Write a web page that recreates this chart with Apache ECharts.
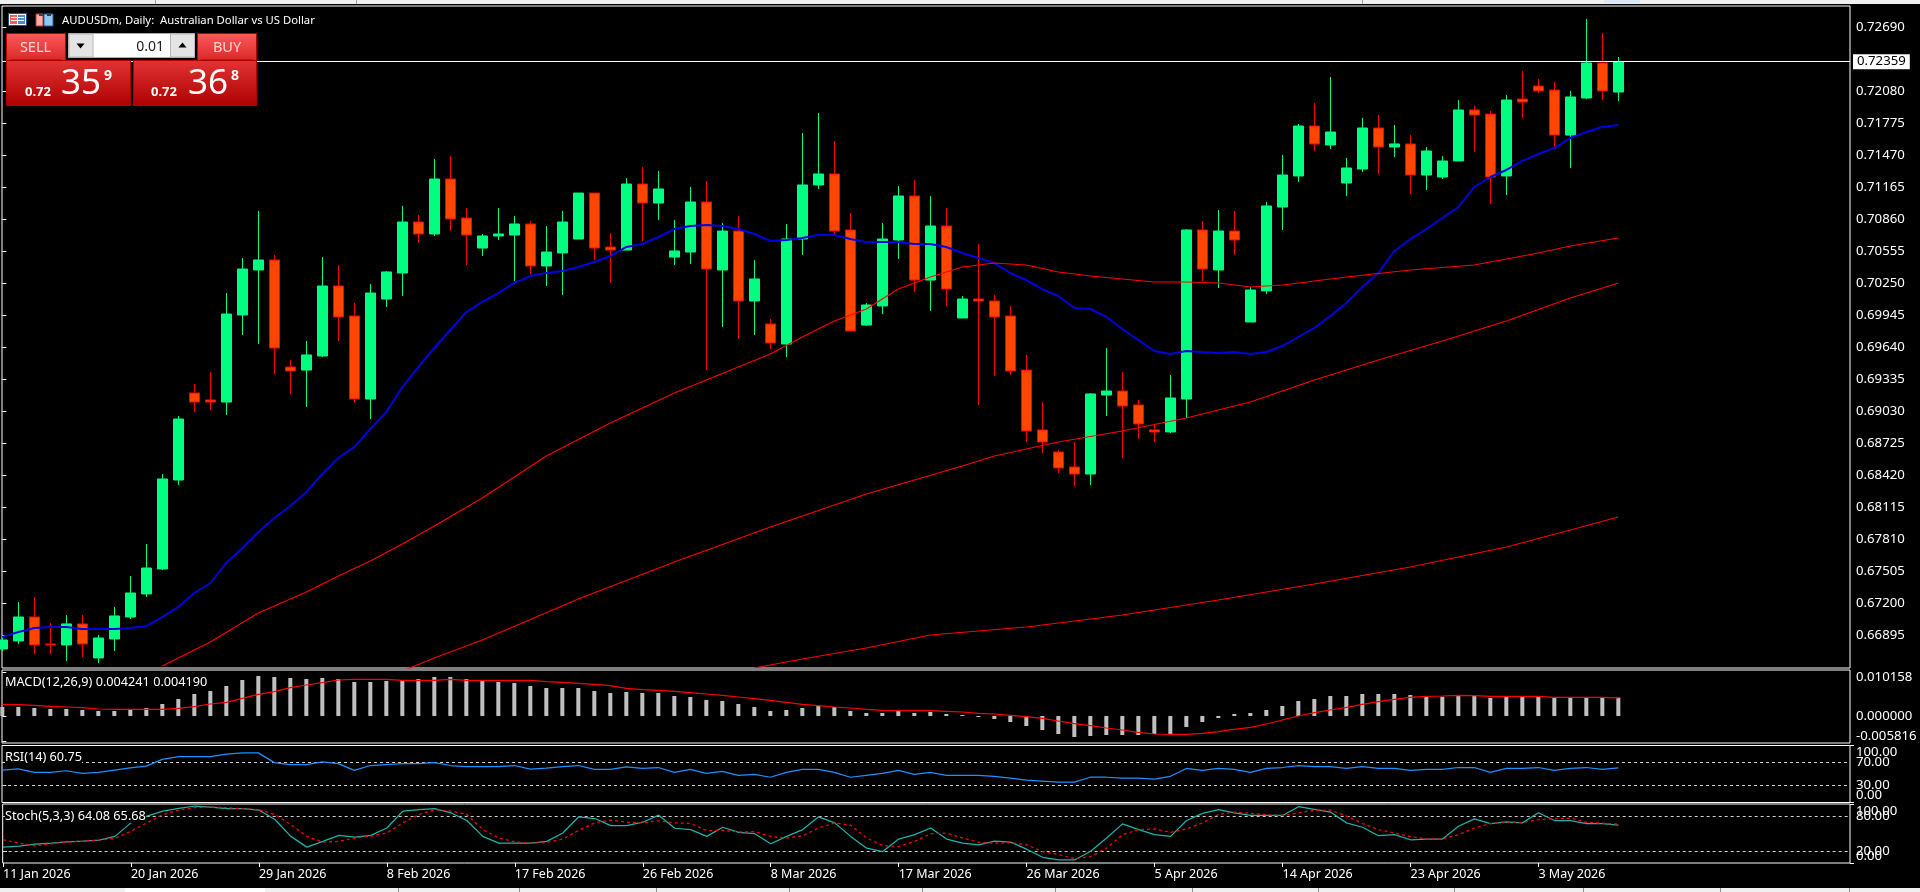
<!DOCTYPE html>
<html>
<head>
<meta charset="utf-8">
<title>AUDUSDm, Daily</title>
<script src="https://cdn.jsdelivr.net/npm/echarts@6/dist/echarts.min.js"></script>
<style>
html, body { margin: 0; padding: 0; background: #000; overflow: hidden; }
#chart { width: 1920px; height: 892px; }
</style>
</head>
<body>
<div id="chart"></div>
<script>
// price candles, one entry per daily bar
var opens = [0.66761,0.66838,0.67066,0.66809,0.66800,0.67000,0.66676,0.66857,0.67066,0.67286,
    0.67524,0.68372,0.69201,0.69135,0.69115,0.69945,0.70374,0.70469,0.69449,0.69420,
    0.69554,0.70221,0.69935,0.69144,0.70097,0.70345,0.70831,0.70717,0.71241,0.70869,
    0.70583,0.70698,0.70707,0.70812,0.70412,0.70536,0.70669,0.71107,0.70593,0.70564,
    0.71193,0.71012,0.70497,0.70545,0.71022,0.70374,0.70745,0.70078,0.69859,0.69668,
    0.70669,0.71184,0.71289,0.70755,0.69849,0.70031,0.70660,0.71079,0.70278,0.70793,
    0.69916,0.70097,0.70078,0.69935,0.69420,0.68849,0.68639,0.68496,0.68429,0.69182,
    0.69220,0.69087,0.68849,0.68830,0.69144,0.70755,0.70374,0.70745,0.69878,0.70174,
    0.70974,0.71270,0.71746,0.71565,0.71203,0.71336,0.71727,0.71546,0.71575,0.71279,
    0.71260,0.71413,0.71899,0.71860,0.71270,0.72003,0.72127,0.72089,0.71660,0.72013,
    0.72347,0.72070];
var closes = [0.66847,0.67066,0.66800,0.66800,0.67000,0.66809,0.66866,0.67076,0.67295,0.67533,
    0.68382,0.68953,0.69115,0.69115,0.69954,0.70383,0.70469,0.69630,0.69411,0.69564,
    0.70221,0.69926,0.69144,0.70154,0.70355,0.70831,0.70717,0.71241,0.70860,0.70707,
    0.70698,0.70717,0.70812,0.70412,0.70545,0.70831,0.71107,0.70583,0.70564,0.71193,
    0.71012,0.71146,0.70555,0.71022,0.70383,0.70745,0.70078,0.70288,0.69678,0.70669,
    0.71184,0.71289,0.70745,0.69792,0.70040,0.70669,0.71079,0.70278,0.70793,0.70192,
    0.70097,0.70078,0.69926,0.69411,0.68839,0.68734,0.68487,0.68429,0.69192,0.69220,
    0.69077,0.68906,0.68830,0.69154,0.70755,0.70383,0.70745,0.70660,0.70183,0.70984,
    0.71279,0.71746,0.71575,0.71689,0.71346,0.71727,0.71546,0.71575,0.71279,0.71508,
    0.71413,0.71899,0.71851,0.71260,0.71994,0.71975,0.72080,0.71660,0.72023,0.72347,
    0.72080,0.72359];
var lows = [0.66742,0.66809,0.66714,0.66714,0.66647,0.66685,0.66628,0.66742,0.67047,0.67257,
    0.67514,0.68324,0.69020,0.69039,0.68992,0.69754,0.69668,0.69382,0.69192,0.69068,
    0.69544,0.69697,0.69106,0.68953,0.70021,0.70126,0.70631,0.70698,0.70745,0.70421,
    0.70507,0.70660,0.70269,0.70336,0.70221,0.70135,0.70669,0.70469,0.70250,0.70564,
    0.70650,0.70850,0.70421,0.70431,0.69420,0.69830,0.69716,0.69754,0.69621,0.69544,
    0.70517,0.71146,0.70717,0.69783,0.69840,0.69954,0.70479,0.70164,0.69983,0.70031,
    0.69916,0.69087,0.69363,0.69373,0.68734,0.68630,0.68439,0.68315,0.68324,0.68982,
    0.68582,0.68763,0.68734,0.68820,0.68963,0.70269,0.70202,0.70517,0.69878,0.70145,
    0.70755,0.71212,0.71508,0.71527,0.71079,0.71308,0.71289,0.71451,0.71098,0.71136,
    0.71241,0.71413,0.71498,0.71003,0.71088,0.71822,0.72061,0.71546,0.71346,0.72003,
    0.71994,0.71984];
var highs = [0.66866,0.67209,0.67257,0.67009,0.67085,0.67085,0.66895,0.67162,0.67457,0.67762,
    0.68429,0.68982,0.69287,0.69401,0.70154,0.70488,0.70936,0.70517,0.69516,0.69697,
    0.70497,0.70421,0.70059,0.70240,0.70364,0.70984,0.70898,0.71432,0.71460,0.70965,
    0.70717,0.70965,0.70888,0.70841,0.70793,0.70936,0.71107,0.71107,0.70726,0.71250,
    0.71355,0.71317,0.70850,0.71165,0.71222,0.70822,0.70888,0.70469,0.69907,0.70812,
    0.71679,0.71870,0.71603,0.70917,0.70059,0.70822,0.71174,0.71231,0.71079,0.70965,
    0.70126,0.70621,0.70135,0.70031,0.69564,0.69115,0.68658,0.68734,0.69201,0.69630,
    0.69401,0.69135,0.68896,0.69373,0.70764,0.70841,0.70946,0.70936,0.70212,0.71022,
    0.71470,0.71765,0.71965,0.72213,0.71441,0.71822,0.71851,0.71756,0.71660,0.71546,
    0.71460,0.71994,0.71937,0.71889,0.72042,0.72270,0.72194,0.72165,0.72080,0.72766,
    0.72633,0.72404];

// blue moving average
var blueMa = [0.66876,0.66923,0.66961,0.66971,0.66971,0.66952,0.66952,0.66952,0.66961,0.66981,
    0.67066,0.67162,0.67295,0.67390,0.67581,0.67724,0.67876,0.68010,0.68124,0.68258,
    0.68429,0.68582,0.68687,0.68858,0.69020,0.69258,0.69449,0.69630,0.69802,0.69973,
    0.70069,0.70154,0.70250,0.70316,0.70345,0.70364,0.70402,0.70450,0.70507,0.70593,
    0.70621,0.70688,0.70764,0.70793,0.70803,0.70793,0.70764,0.70717,0.70650,0.70660,
    0.70679,0.70707,0.70707,0.70669,0.70641,0.70641,0.70641,0.70621,0.70621,0.70593,
    0.70536,0.70488,0.70440,0.70345,0.70278,0.70192,0.70126,0.70011,0.70002,0.69926,
    0.69811,0.69706,0.69602,0.69573,0.69602,0.69592,0.69583,0.69592,0.69573,0.69592,
    0.69649,0.69735,0.69821,0.69935,0.70059,0.70212,0.70345,0.70555,0.70669,0.70764,
    0.70869,0.70974,0.71165,0.71260,0.71327,0.71413,0.71479,0.71536,0.71632,0.71689,
    0.71737,0.71756];

// the three red averages, read at the listed bars
var redABars = [10,13,16,19,21,23,25,27,30,34,38,42,44,46,48,50,52,54,56,58,60,62,64,66,68,70,72,74,76,78,80,84,88,92,96,98,101];
var redA = [0.66599,0.66828,0.67105,0.67305,0.67457,0.67600,0.67762,0.67934,0.68201,0.68601,0.68915,0.69201,0.69325,0.69449,0.69573,0.69735,0.69887,0.70002,0.70192,0.70307,0.70402,0.70440,0.70421,0.70355,0.70316,0.70288,0.70259,0.70259,0.70250,0.70212,0.70231,0.70307,0.70374,0.70421,0.70536,0.70602,0.70679];
var redBBars = [25,27,30,36,42,48,54,60,62,66,70,74,78,82,86,90,94,98,101];
var redB = [0.66552,0.66676,0.66847,0.67238,0.67591,0.67924,0.68238,0.68506,0.68601,0.68734,0.68839,0.68963,0.69115,0.69325,0.69516,0.69697,0.69887,0.70107,0.70250];
var redCBars = [47,50,54,58,64,70,76,82,88,94,98,101];
var redC = [0.66580,0.66666,0.66771,0.66895,0.66971,0.67085,0.67228,0.67381,0.67543,0.67733,0.67896,0.68019];

// MACD pane
var macdHist = [0.002079,0.002079,0.001848,0.001617,0.001617,0.001386,0.001155,0.001155,0.001386,0.001848,
    0.002772,0.003927,0.005082,0.005775,0.00693,0.008316,0.00924,0.009009,0.008778,0.008547,
    0.008778,0.008547,0.007854,0.007854,0.008085,0.008316,0.008547,0.009009,0.009009,0.008547,
    0.008085,0.007854,0.007623,0.00693,0.006468,0.006468,0.006468,0.005775,0.005313,0.005544,
    0.005313,0.005313,0.00462,0.004389,0.003696,0.003465,0.002772,0.002079,0.001155,0.001386,
    0.001848,0.00231,0.002079,0.001155,0.000693,0.000693,0.001155,0.000693,0.000924,0.000462,
    0.000231,-0.000231,-0.000693,-0.001386,-0.00231,-0.003234,-0.004158,-0.004851,-0.00462,-0.004389,
    -0.004389,-0.004389,-0.004158,-0.004158,-0.002541,-0.001386,-0.000462,0.000462,0.000693,0.001386,
    0.00231,0.003465,0.003927,0.00462,0.00462,0.005082,0.005082,0.005082,0.004851,0.00462,
    0.004466,0.00462,0.00462,0.004158,0.004389,0.004389,0.004389,0.004158,0.004158,0.004158,
    0.004158,0.004241];
var macdSignal = [0.002695,0.002618,0.002464,0.002233,0.002079,0.001925,0.001617,0.00154,0.00154,0.00154,
    0.00154,0.001771,0.002156,0.002772,0.003157,0.004081,0.005005,0.005621,0.006545,0.007161,
    0.0077,0.008316,0.00847,0.00847,0.00847,0.008239,0.008239,0.008239,0.00847,0.008239,
    0.008239,0.008239,0.008239,0.008239,0.007931,0.007777,0.007546,0.007315,0.007007,0.006391,
    0.006083,0.005929,0.005698,0.00539,0.005082,0.004774,0.004389,0.004004,0.003619,0.003157,
    0.002695,0.002387,0.002079,0.001848,0.00154,0.001309,0.001232,0.001232,0.001232,0.001078,
    0.000924,0.000616,0.000462,0.000154,-0.000154,-0.000539,-0.001155,-0.001771,-0.002233,-0.002772,
    -0.003234,-0.003773,-0.004158,-0.004235,-0.004235,-0.004004,-0.003619,-0.00308,-0.002618,-0.001848,
    -0.000924,0,0.00077,0.001386,0.002002,0.002695,0.003311,0.00385,0.004312,0.004543,
    0.00462,0.004774,0.004697,0.004543,0.004543,0.004543,0.004543,0.004312,0.004312,0.004312,
    0.004312,0.00419];

// RSI pane
var rsi = [56.9,59.1,52.9,52.9,55.7,51.1,52.9,56.9,60.9,63.7,
    75.7,80.3,80.3,80.3,84.9,87.1,87.1,70,66.6,66.6,
    71.1,68.3,56.3,64.9,66.6,68.3,68.3,70,64.9,63.1,
    63.1,63.1,64.9,58.6,60.3,63.1,64.9,58,58,62.6,
    59.7,61.4,52.9,58,51.1,54.6,47.7,49.4,44.3,52.9,
    58,58,52.9,44.3,47.7,51.1,56.3,49.4,52.9,47.7,
    47.7,47.7,46,42.6,39.1,37.4,35.7,35.7,44.3,44.3,
    42.6,42.6,40.9,46,59.7,56.3,59.7,58,52.9,59.7,
    61.4,64.9,63.1,63.1,59.7,63.1,59.7,59.7,56.3,58,
    58,61.4,61.4,52.9,59.7,59.7,61.4,56.3,59.7,61.4,
    58,60.75];

// Stochastic pane
var stochMain = [26.9,28.6,32,33.7,36,37.1,38.9,45.1,68,79.4,
    88,92.6,96.6,94.9,92,92,89.7,73.7,45.1,26.9,
    36.6,46.9,44,46.9,59.4,88,90.3,92,85.1,72,
    45.1,33.7,33.7,33.7,36.6,50.9,78.3,75.4,63.4,63.4,
    69.1,81.1,58.9,56.6,45.1,60.6,52,49.7,32.6,45.1,
    56.6,78.3,68,45.1,25.1,19.4,40.6,48,59.4,40.6,
    33.7,30.9,37.1,35.4,23.4,9.7,5.1,5.1,20,42.3,
    66.3,56.6,48,45.1,72,84,90.3,85.1,80.6,80.6,
    80.6,95.4,90.9,86.3,68,60.6,46.3,48,39.4,40.6,
    40.6,62.3,74.9,66.9,69.7,68,85.1,72,72,66.9,
    66.9,64.08];
var stochSignal = [39.4,33.7,29.1,32.6,35.4,37.1,38.9,41.7,53.7,68,
    82.3,89.7,93.7,94.9,93.7,92,90.3,82.3,65.1,45.1,
    35.4,36.6,42.3,45.7,50.9,68,82.3,90.3,88,82.3,
    56.6,42.3,36,33.7,34.9,40.6,55.4,68,72.6,69.1,
    68,71.4,68,66.9,54.9,55.4,52.6,53.1,45.1,42.3,
    46.3,59.4,68,64,42.3,29.7,28,36.6,49.7,50.9,
    42.3,34.9,33.7,34.3,30.9,19.4,14.3,7.4,10.9,25.1,
    48,56.6,57.7,52,57.7,68,82.3,86.3,84,81.7,
    80.6,85.1,89.1,89.7,79.4,66.9,56.6,50.9,44.6,41.1,
    40.6,48,59.4,66.9,69.7,68.6,73.7,74.9,76,69.1,
    67.4,65.68];

// axis ticks
var priceTicks = [0.66895,0.67200,0.67505,0.67810,0.68115,0.68420,0.68725,0.69030,0.69335,0.69640,0.69945,0.70250,0.70555,0.70860,0.71165,0.71470,0.71775,0.72080,0.72690];
var lastPrice = 0.72359;
var macdTicks = [-0.005816,0,0.010158];
var levelTicksRsi = [30,70];
var levelTicksStoch = [20,80];
var rangeTicks = [0,100];
var dateBars = [0,8,16,24,32,40,48,56,64,72,80,88,96];
var dateLabels = ['11 Jan 2026','20 Jan 2026','29 Jan 2026','8 Feb 2026','17 Feb 2026','26 Feb 2026','8 Mar 2026','17 Mar 2026','26 Mar 2026','5 Apr 2026','14 Apr 2026','23 Apr 2026','3 May 2026'];

var FONT = '"Noto Sans", sans-serif';
var GREEN = '#00ff7f', ORANGE = '#ff4500', RED = '#ff0000';

function byBar(vals) {
    return vals.map(function (v, i) { return [i, v]; });
}

function atBars(bars, vals) {
    return bars.map(function (b, i) { return [b, vals[i]]; });
}

function xAxisFor(gridIndex, visible) {
    return {
        type: 'value', gridIndex: gridIndex, min: -0.02, max: 115.48,
        splitLine: {show: false},
        axisLine: {show: false},
        axisTick: {show: visible, customValues: dateBars, length: 4, lineStyle: {color: '#fff'}},
        axisLabel: {
            show: visible, customValues: dateBars, color: '#fff', fontFamily: FONT, fontSize: 12.5,
            margin: 5, align: 'left', alignMinLabel: 'left', alignMaxLabel: 'left',
            formatter: function (v) { return dateLabels[dateBars.indexOf(v)]; }
        }
    };
}

// insideHeight set: end labels sit inside the pane instead of centred on their tick
function yAxisFor(gridIndex, min, max, ticks, digits, insideHeight) {
    var label = {
        customValues: ticks, color: '#fff', fontFamily: FONT, fontSize: 13.2, margin: 6,
        showMinLabel: true, showMaxLabel: true,
        formatter: function (v) { return v.toFixed(digits); }
    };
    if (insideHeight) {
        label.verticalAlignMinLabel = 'bottom';
        label.verticalAlignMaxLabel = 'top';
        label.lineHeight = insideHeight;
    }
    return {
        type: 'value', gridIndex: gridIndex, position: 'right', min: min, max: max, scale: true,
        splitLine: {show: false},
        axisLine: {show: false},
        axisTick: {show: true, customValues: ticks, length: 4, lineStyle: {color: '#fff'}},
        axisLabel: label
    };
}

function lineSeries(gridIndex, data, color, width, dash) {
    return {
        type: 'line', xAxisIndex: gridIndex, yAxisIndex: gridIndex, data: data,
        showSymbol: false, silent: true, z: 5,
        lineStyle: {color: color, width: width, type: dash || 'solid'}
    };
}

function levels(a, b) {
    return {
        silent: true, symbol: 'none', animation: false, label: {show: false},
        lineStyle: {color: '#d0d0d0', width: 1, type: [3, 3]},
        data: [{yAxis: a}, {yAxis: b}]
    };
}

function paneTitle(text, top) {
    return {
        text: text, left: 5, top: top, padding: 0, backgroundColor: '#000',
        textStyle: {color: '#fff', fontFamily: FONT, fontSize: 12.7, fontWeight: 'normal', lineHeight: 14}
    };
}

function box(x, y, w, h, fill, stroke) {
    return {type: 'rect', z: 100, shape: {x: x, y: y, width: w, height: h}, style: {fill: fill, stroke: stroke || null}, silent: true};
}

function vGrad(a, b) {
    return {type: 'linear', x: 0, y: 0, x2: 0, y2: 1, colorStops: [{offset: 0, color: a}, {offset: 1, color: b}]};
}

function label(x, y, text, size, fill, weight, align) {
    return {
        type: 'text', z: 101, silent: true,
        style: {
            x: x, y: y, text: text, fill: fill, fontFamily: FONT, fontSize: size,
            fontWeight: weight || 'normal', textAlign: align || 'left', textVerticalAlign: 'middle'
        }
    };
}

function arrow(cx, cy, up) {
    var d = up ? -3 : 3;
    return {
        type: 'polygon', z: 102, silent: true,
        shape: {points: [[cx - 4, cy - d / 1.5], [cx + 4, cy - d / 1.5], [cx, cy + d]]},
        style: {fill: '#000'}
    };
}

// window chrome and the one click trading panel
function buildOverlay() {
    var g = [];
    g.push(box(0, 0, 1920, 4, '#f0f0f0'));
    g.push(box(155, 0, 1, 4, '#a0a0a0'), box(356, 0, 1, 4, '#a0a0a0'), box(1362, 0, 1, 4, '#a0a0a0'));
    g.push(box(1604, 0, 36, 3, '#dce8f5'));

    g.push(box(0, 888, 1920, 4, '#f0f0f0'));
    g.push(box(125, 888, 140, 4, '#ffffff'));
    [398, 519, 656, 789, 922, 1055, 1192, 1318, 1454, 1583, 1720, 1849].forEach(function (x) {
        g.push(box(x, 888, 1, 4, '#909090'));
    });

    // title icons
    g.push(box(8.5, 13.5, 18, 12, '#ffffff', '#1f4f8f'));
    g.push(box(10, 15, 7, 9, '#f06060'), box(18, 15, 7, 9, '#4a90d0'));
    g.push(box(11, 17, 13, 1, '#ffffff'), box(11, 20, 13, 1, '#ffffff'));
    g.push(box(36, 14, 7, 12, '#f8b0a8', '#d03020'), box(44, 14, 9, 12, '#90c8f0', '#1f5f9f'));
    g.push(box(39, 13, 4, 3, '#404040'), box(47, 13, 4, 3, '#204060'));
    g.push(label(62, 21, 'AUDUSDm, Daily:  Australian Dollar vs US Dollar', 11.3, '#fff'));

    // sell / buy
    g.push(box(6.5, 33.5, 59, 27, vGrad('#ff5a5a', '#d82828'), '#b80000'));
    g.push(box(197.5, 33.5, 59, 27, vGrad('#ff5a5a', '#d82828'), '#b80000'));
    g.push(box(6.5, 60.5, 124, 45, vGrad('#e23434', '#ad0000'), '#b80000'));
    g.push(box(133.5, 60.5, 123, 45, vGrad('#e23434', '#ad0000'), '#b80000'));
    g.push(box(10, 59.5, 52, 1, '#a80000'), box(201, 59.5, 52, 1, '#a80000'));
    g.push(label(35.5, 47.5, 'SELL', 14.5, '#ffd6d6', 'normal', 'center'));
    g.push(label(227, 47.5, 'BUY', 14.5, '#ffd6d6', 'normal', 'center'));

    // lot box
    g.push(box(68.5, 33.5, 126, 24, '#ffffff', '#a8a8a8'));
    g.push(box(69, 34, 24, 23, '#e4e4e4', '#b8b8b8'), box(170.5, 34, 24, 23, '#e4e4e4', '#b8b8b8'));
    g.push(arrow(80.5, 45.5, false), arrow(182.5, 45.5, true));
    g.push(label(164, 47, '0.01', 14, '#1a1a1a', 'normal', 'right'));

    // quotes
    g.push(label(25, 92, '0.72', 13, '#fff', 'bold'));
    g.push(label(61, 84, '35', 35, '#fff'));
    g.push(label(104, 76, '9', 14, '#fff', 'bold'));
    g.push(label(151, 92, '0.72', 13, '#fff', 'bold'));
    g.push(label(188, 84, '36', 35, '#fff'));
    g.push(label(231, 76, '8', 14, '#fff', 'bold'));
    return g;
}

var candles = opens.map(function (o, i) {
    return [i, o, closes[i], lows[i], highs[i]];
});

// last price line and tag hang off the blue line series
var lastPriceLine = {
    silent: true, symbol: 'none', animation: false, precision: 5,
    lineStyle: {color: '#fff', width: 1, type: 'solid'},
    label: {
        show: true, position: 'end', distance: 3, formatter: lastPrice.toFixed(5),
        color: '#000', backgroundColor: '#fff', padding: [1, 4],
        fontFamily: FONT, fontSize: 13.2
    },
    data: [{yAxis: lastPrice}]
};

var chart = echarts.init(document.getElementById('chart'), null, {renderer: 'canvas'});
var option = {
    animation: false,
    backgroundColor: '#000',
    grid: [
        {left: 2, right: 70, top: 6, height: 662, show: true, borderColor: '#fff', borderWidth: 1, backgroundColor: '#000'},
        {left: 2, right: 70, top: 670, height: 73, show: true, borderColor: '#fff', borderWidth: 1, backgroundColor: '#000'},
        {left: 2, right: 70, top: 745.5, height: 57, show: true, borderColor: '#fff', borderWidth: 1, backgroundColor: '#000'},
        {left: 2, right: 70, top: 804, height: 59, show: true, borderColor: '#fff', borderWidth: 1, backgroundColor: '#000'}
    ],
    title: [
        paneTitle('MACD(12,26,9) 0.004241 0.004190', 675),
        paneTitle('RSI(14) 60.75', 750),
        paneTitle('Stoch(5,3,3) 64.08 65.68', 809)
    ],
    xAxis: [xAxisFor(0, false), xAxisFor(1, false), xAxisFor(2, false), xAxisFor(3, true)],
    yAxis: [
        yAxisFor(0, 0.66580, 0.72890, priceTicks, 5),
        yAxisFor(1, -0.006237, 0.010626, macdTicks, 6, 10),
        yAxisFor(2, 0, 100, levelTicksRsi, 2),
        yAxisFor(3, 0, 100, levelTicksStoch, 2),
        // 0 and 100 get their own axes so they can overlap the level labels
        yAxisFor(2, 0, 100, rangeTicks, 2, 14),
        yAxisFor(3, 0, 100, rangeTicks, 2, 14)
    ],
    series: [
        {
            type: 'candlestick', xAxisIndex: 0, yAxisIndex: 0, data: candles, barWidth: 10, silent: true, z: 3,
            itemStyle: {color: GREEN, color0: ORANGE, borderColor: GREEN, borderColor0: RED, borderWidth: 1}
        },
        Object.assign(lineSeries(0, byBar(blueMa), '#0000e0', 2), {markLine: lastPriceLine}),
        lineSeries(0, atBars(redABars, redA), RED, 1.1),
        lineSeries(0, atBars(redBBars, redB), RED, 1.1),
        lineSeries(0, atBars(redCBars, redC), RED, 1.1),
        {
            type: 'bar', xAxisIndex: 1, yAxisIndex: 1, data: byBar(macdHist), barWidth: 4, silent: true,
            itemStyle: {color: '#c0c0c0'}
        },
        lineSeries(1, byBar(macdSignal), RED, 1.25),
        Object.assign(lineSeries(2, byBar(rsi), '#1e90ff', 1.25), {markLine: levels(70, 30)}),
        Object.assign(lineSeries(3, byBar(stochMain), '#20b2aa', 1.25), {markLine: levels(80, 20)}),
        lineSeries(3, byBar(stochSignal), RED, 1.25, [3, 3])
    ],
    graphic: buildOverlay()
};
chart.setOption(option);
</script>
</body>
</html>
